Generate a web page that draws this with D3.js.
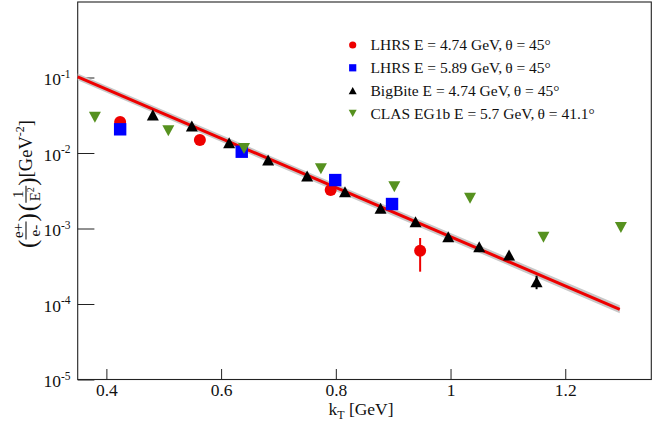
<!DOCTYPE html>
<html><head><meta charset="utf-8">
<script src="https://cdn.jsdelivr.net/npm/d3@7"></script>
<style>body{margin:0;background:#fff} svg{display:block}</style>
</head><body><svg id="c" width="660" height="430"></svg>
<script>
// ---------- data ----------
const lhrs474KT  = [0.424, 0.563, 0.791, 0.947];
const lhrs474Val = [0.0258, 0.0149, 0.00324, 0.000508];
const lhrs474Err = [0.001, 0.0006, 0.0001, 0.00024];

const lhrs589KT  = [0.424, 0.636, 0.799, 0.898];
const lhrs589Val = [0.0206, 0.0104, 0.00438, 0.00211];

const bigbiteKT  = [0.481, 0.549, 0.614, 0.682, 0.750, 0.816, 0.878, 0.939, 0.996, 1.050, 1.102, 1.150];
const bigbiteVal = [0.032, 0.0228, 0.0137, 0.00807, 0.00495, 0.00307, 0.00185, 0.00123, 0.000778, 0.000574, 0.000446, 0.000197];
const bigbiteErr = [0, 0, 0, 0, 0, 0, 0, 0, 0, 0, 0, 0.00004];

const clasKT  = [0.380, 0.508, 0.640, 0.774, 0.902, 1.034, 1.162, 1.297];
const clasVal = [0.0297, 0.0197, 0.0115, 0.0062, 0.00358, 0.00251, 0.000764, 0.00103];

const fitKT     = [0.35, 1.295];
const fitVal    = [0.102, 0.000085];
const fitBandLo = [0.092, 0.0000755];
const fitBandHi = [0.113, 0.000096];

const xMajorTicks = [0.4, 0.6, 0.8, 1.0, 1.2];
const xTickLabels = ["0.4", "0.6", "0.8", "1", "1.2"];
const yDecades    = [1e-5, 1e-4, 1e-3, 1e-2, 1e-1];
const yDecadeExp  = ["-5", "-4", "-3", "-2", "-1"];

const legendLabels = [
  "LHRS E = 4.74 GeV,\u2009\u03b8 = 45\u00b0",
  "LHRS E = 5.89 GeV,\u2009\u03b8 = 45\u00b0",
  "BigBite E = 4.74 GeV,\u2009\u03b8 = 45\u00b0",
  "CLAS EG1b E = 5.7 GeV,\u2009\u03b8 = 41.1\u00b0"
];

// ---------- setup ----------
const serif = "'Liberation Serif','Times New Roman',serif";
const RED = "#ee0000", BLUE = "#0000ff", BLACK = "#000000", GREEN = "#56911f";
const L = 77.7, R = 651.3, T = 2, B = 379.5;
const svg = d3.select("#c");
const x = d3.scaleLinear().domain([0.35, 1.35]).range([L, R]);
const y = d3.scaleLog().domain([1e-5, 1]).range([B, T]);

// ---------- axes ----------
const xMinor = d3.range(0.35, 1.3501, 0.05).map(v => +v.toFixed(2)).filter(v => !xMajorTicks.some(m => Math.abs(m - v) < 1e-6));
const yMinor = [];
[-5, -4, -3, -2, -1].forEach(e => { for (let k = 2; k <= 9; k++) yMinor.push(k * Math.pow(10, e)); });

const gx = svg.append("g").attr("transform", `translate(0,${B})`);
gx.call(d3.axisBottom(x).tickValues(xMinor).tickSize(-5.5).tickFormat(() => ""));
gx.call(d3.axisBottom(x).tickValues(xMajorTicks).tickSize(-10.5)
  .tickFormat((d, i) => xTickLabels[i]));
gx.selectAll(".domain").remove();
gx.selectAll("line").attr("stroke", "#222");
gx.selectAll("text").attr("y", 16.5).attr("dy", null)
  .attr("font-family", serif).attr("font-size", 17.5).attr("fill", "#111");

const gy = svg.append("g").attr("transform", `translate(${L},0)`);
gy.call(d3.axisLeft(y).tickValues(yMinor).tickSize(-9).tickFormat(() => ""));
gy.call(d3.axisLeft(y).tickValues(yDecades).tickSize(-16.7).tickFormat(() => ""));
gy.selectAll(".domain").remove();
gy.selectAll("line").attr("stroke", "#222");

// decade labels
yDecades.forEach((v, i) => {
  const t = svg.append("text").attr("x", 70.5).attr("y", y(v) + 7.5)
    .attr("text-anchor", "end").attr("font-family", serif).attr("font-size", 17.5).attr("fill", "#111");
  t.append("tspan").text("10");
  t.append("tspan").attr("dy", -7.5).attr("font-size", 11.5).text(yDecadeExp[i]);
});

// frame
svg.append("rect").attr("x", L).attr("y", T).attr("width", R - L).attr("height", B - T)
  .attr("fill", "none").attr("stroke", "#222").attr("stroke-width", 1.1);

// ---------- fit band + line ----------
const fitRows = fitKT.map((k, i) => ({k, v: fitVal[i], lo: fitBandLo[i], hi: fitBandHi[i]}));
svg.append("path").datum(fitRows)
  .attr("d", d3.area().x(d => x(d.k)).y0(d => y(d.lo)).y1(d => y(d.hi)))
  .attr("fill", "#c8c8c8");
svg.append("path").datum(fitRows)
  .attr("d", d3.line().x(d => x(d.k)).y(d => y(d.v)))
  .attr("fill", "none").attr("stroke", RED).attr("stroke-width", 3);

// ---------- markers ----------
function triUp(g, cx, cy, s, col) {
  const h = s * 0.92;
  g.append("path").attr("d", `M${cx - s},${cy + h}L${cx + s},${cy + h}L${cx},${cy - h}Z`).attr("fill", col);
}
function triDown(g, cx, cy, s, col) {
  const h = s * 0.92;
  g.append("path").attr("d", `M${cx - s},${cy - h}L${cx + s},${cy - h}L${cx},${cy + h}Z`).attr("fill", col);
}
function errBar(g, k, v, e, col) {
  if (!e) return;
  g.append("line").attr("x1", x(k)).attr("x2", x(k)).attr("y1", y(v - e)).attr("y2", y(v + e))
    .attr("stroke", col).attr("stroke-width", 2);
}
const gp = svg.append("g");
lhrs474KT.forEach((k, i) => errBar(gp, k, lhrs474Val[i], lhrs474Err[i], RED));
lhrs474KT.forEach((k, i) => gp.append("circle").attr("cx", x(k)).attr("cy", y(lhrs474Val[i])).attr("r", 6).attr("fill", RED));
lhrs589KT.forEach((k, i) => gp.append("rect").attr("x", x(k) - 6.2).attr("y", y(lhrs589Val[i]) - 6.2)
  .attr("width", 12.4).attr("height", 12.4).attr("fill", BLUE));
bigbiteKT.forEach((k, i) => errBar(gp, k, bigbiteVal[i], bigbiteErr[i], BLACK));
bigbiteKT.forEach((k, i) => triUp(gp, x(k), y(bigbiteVal[i]), 6, BLACK));
clasKT.forEach((k, i) => triDown(gp, x(k), y(clasVal[i]), 6, GREEN));

// ---------- legend ----------
const legY = [45, 67.8, 90.6, 113.4];
const lg = svg.append("g");
lg.append("circle").attr("cx", 352.7).attr("cy", legY[0]).attr("r", 3.6).attr("fill", RED);
lg.append("rect").attr("x", 352.7 - 3.6).attr("y", legY[1] - 3.6).attr("width", 7.2).attr("height", 7.2).attr("fill", BLUE);
triUp(lg, 352.7, legY[2], 4, BLACK);
triDown(lg, 352.7, legY[3], 4, GREEN);
legendLabels.forEach((s, i) => lg.append("text").attr("x", 370.5).attr("y", legY[i] + 5.3)
  .attr("font-family", serif).attr("font-size", 15.5).attr("fill", "#111").text(s));

// ---------- axis titles ----------
const xt = svg.append("text").attr("x", 361).attr("y", 415).attr("text-anchor", "middle")
  .attr("font-family", serif).attr("font-size", 17.5).attr("fill", "#111");
xt.append("tspan").text("k");
xt.append("tspan").attr("dy", 4).attr("font-size", 12).text("T");
xt.append("tspan").attr("dy", -4).text(" [GeV]");

// y title built piecewise then rotated
const yt = svg.append("g").attr("font-family", serif).attr("fill", "#111");
const inner = yt.append("g");
let cur = 0;
function piece(str, size, base) {
  const t = inner.append("text").attr("x", cur).attr("y", base).attr("font-size", size).text(str);
  cur += t.node().getComputedTextLength();
  return t;
}
function frac(num, den, denSup) {
  const a = inner.append("text").attr("y", -9).attr("font-size", 15).attr("text-anchor", "middle").text(num);
  const b = inner.append("text").attr("y", 7.5).attr("font-size", 15).attr("text-anchor", "middle").text(den);
  if (denSup) b.append("tspan").attr("dy", -6).attr("font-size", 10).text(denSup);
  const w = Math.max(a.node().getComputedTextLength(), b.node().getComputedTextLength()) + 3;
  a.attr("x", cur + w / 2); b.attr("x", cur + w / 2);
  inner.append("line").attr("x1", cur).attr("x2", cur + w).attr("y1", -6).attr("y2", -6)
    .attr("stroke", "#111").attr("stroke-width", 1.1);
  cur += w;
}
piece("(", 25, 3.5);
frac("e+", "e-");
piece(")", 25, 3.5);
cur += 2;
piece("(", 25, 3.5);
frac("1", "E", "2");
piece(")", 25, 3.5);
piece(" [GeV", 18.5, 0);
const sup = inner.append("text").attr("x", cur).attr("y", -8).attr("font-size", 12).text("-2");
cur += sup.node().getComputedTextLength();
piece("]", 18.5, 0);
inner.attr("transform", `translate(${-cur / 2},0)`);
yt.attr("transform", `translate(32,184) rotate(-90)`);
</script></body></html>
